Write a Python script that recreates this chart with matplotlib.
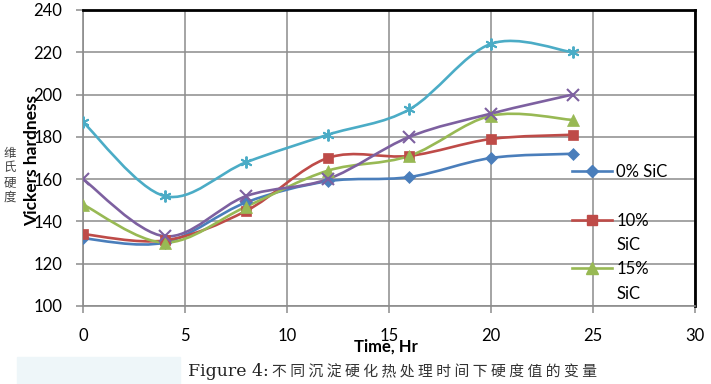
# plot.py
# Vickers hardness vs. ageing time (smoothed lines, Excel style)

import matplotlib
matplotlib.use("Agg")
import matplotlib.pyplot as plt
import numpy as np
from matplotlib.lines import Line2D
from matplotlib.path import Path
from matplotlib.patches import PathPatch, Rectangle

# data
time_hr = [0, 4, 8, 12, 16, 20, 24]
sic_0 = [132, 130, 149, 159, 161, 170, 172]
sic_10 = [134, 131, 145, 170, 171, 179, 181]
sic_15 = [148, 130, 147, 164, 171, 190, 188]
series_4 = [160, 133, 152, 160, 180, 191, 200]
series_5 = [187, 152, 168, 181, 193, 224, 220]

legend_labels = ["0% SiC", "10%", "15%"]
x_ticks = [0, 5, 10, 15, 20, 25, 30]
y_ticks = [100, 120, 140, 160, 180, 200, 220, 240]

plt.rcParams["font.family"] = ["Lato", "DejaVu Sans"]


def smooth_path(xs, ys):
    """Catmull-Rom style bezier path through the points (like Excel's smoothed line)."""
    pts = np.column_stack([xs, ys]).astype(float)
    n = len(pts)
    verts = [pts[0]]
    codes = [Path.MOVETO]
    for i in range(n - 1):
        p0 = pts[i - 1] if i > 0 else pts[i]
        p1 = pts[i]
        p2 = pts[i + 1]
        p3 = pts[i + 2] if i + 2 < n else p2
        verts += [p1 + (p2 - p0) / 6, p2 - (p3 - p1) / 6, p2]
        codes += [Path.CURVE4] * 3
    return Path(verts, codes)


fig = plt.figure(figsize=(7.11, 3.84), dpi=100)
ax = fig.add_axes([83 / 711, 1 - 306 / 384, (695 - 83) / 711, (306 - 10) / 384])

styles = [
    (sic_0, "#4A7EBB", "D", 6, 0),
    (sic_10, "#BE4B48", "s", 7.5, 0),
    (sic_15, "#98B954", "^", 8, 0),
    (series_4, "#7D60A0", "x", 8, 1.5),
    (series_5, "#4BACC6", (6, 2, 0), 8.5, 1.4),
]

for vals, col, mk, ms, mew in styles:
    ax.add_patch(PathPatch(smooth_path(time_hr, vals), fill=False,
                           edgecolor=col, lw=1.9, zorder=3))
    ax.plot(time_hr, vals, linestyle="none", marker=mk, ms=ms, color=col,
            markeredgewidth=mew if mew else 0.5, zorder=4)

ax.set_xlim(0, 30)
ax.set_ylim(100, 240)
ax.set_xticks(x_ticks)
ax.set_yticks(y_ticks)
ax.grid(True, color="#8C8C8C", lw=1.1)
ax.set_axisbelow(True)
ax.tick_params(axis="both", labelsize=12, color="#8C8C8C", length=5, width=1.1)
ax.tick_params(axis="x", pad=11)
ax.tick_params(axis="y", pad=10)
for side in ["left", "bottom"]:
    ax.spines[side].set_color("#8C8C8C")
    ax.spines[side].set_linewidth(1.2)
for side in ["top", "right"]:
    ax.spines[side].set_color("black")
    ax.spines[side].set_linewidth(2)

# legend: only the first three series, with wrapped labels
blank = Line2D([], [], linestyle="none")
handles = []
labels = []
for (vals, col, mk, ms, mew), lab in zip(styles[:3], legend_labels):
    handles.append(Line2D([], [], color=col, lw=1.9, marker=mk, ms=ms))
    labels.append(lab)
    handles.append(blank)
    labels.append(" " if lab == "0% SiC" else "SiC")
leg = ax.legend(handles, labels, loc="upper left", bbox_to_anchor=(0.799, 0.48),
                frameon=False, fontsize=12, handlelength=2.4, handletextpad=0.25,
                labelspacing=0.5, borderaxespad=0, borderpad=0)

# axis titles
fig.text(32 / 711, 1 - 160 / 384, "Vickers hardness", rotation=90, fontsize=12.5,
         fontweight="bold", ha="center", va="center")
fig.text(10 / 711, 1 - 175 / 384, "维\n氏\n硬\n度", fontsize=9, color="#444444",
         ha="center", va="center", linespacing=1.15,
         family=["Noto Sans CJK SC", "DejaVu Sans"])
fig.text(386 / 711, 1 - 347 / 384, "Time, Hr", fontsize=12, fontweight="bold",
         ha="center", va="center")

# caption strip
fig.patches.append(Rectangle((17 / 711, 0), (180 - 17) / 711, 27 / 384,
                             transform=fig.transFigure, color="#EEF6F9", zorder=0))
fig.text(188 / 711, 1 - 372 / 384, "Figure 4:", fontsize=12.5, color="#222222",
         family=["DejaVu Serif"], ha="left", va="center")
fig.text(272 / 711, 1 - 372 / 384, " ".join("不同沉淀硬化热处理时间下硬度值的变量"),
         fontsize=10.7, color="#333333", ha="left", va="center",
         family=["Noto Sans CJK SC", "DejaVu Sans"])

fig.savefig("out.png", dpi=100)
